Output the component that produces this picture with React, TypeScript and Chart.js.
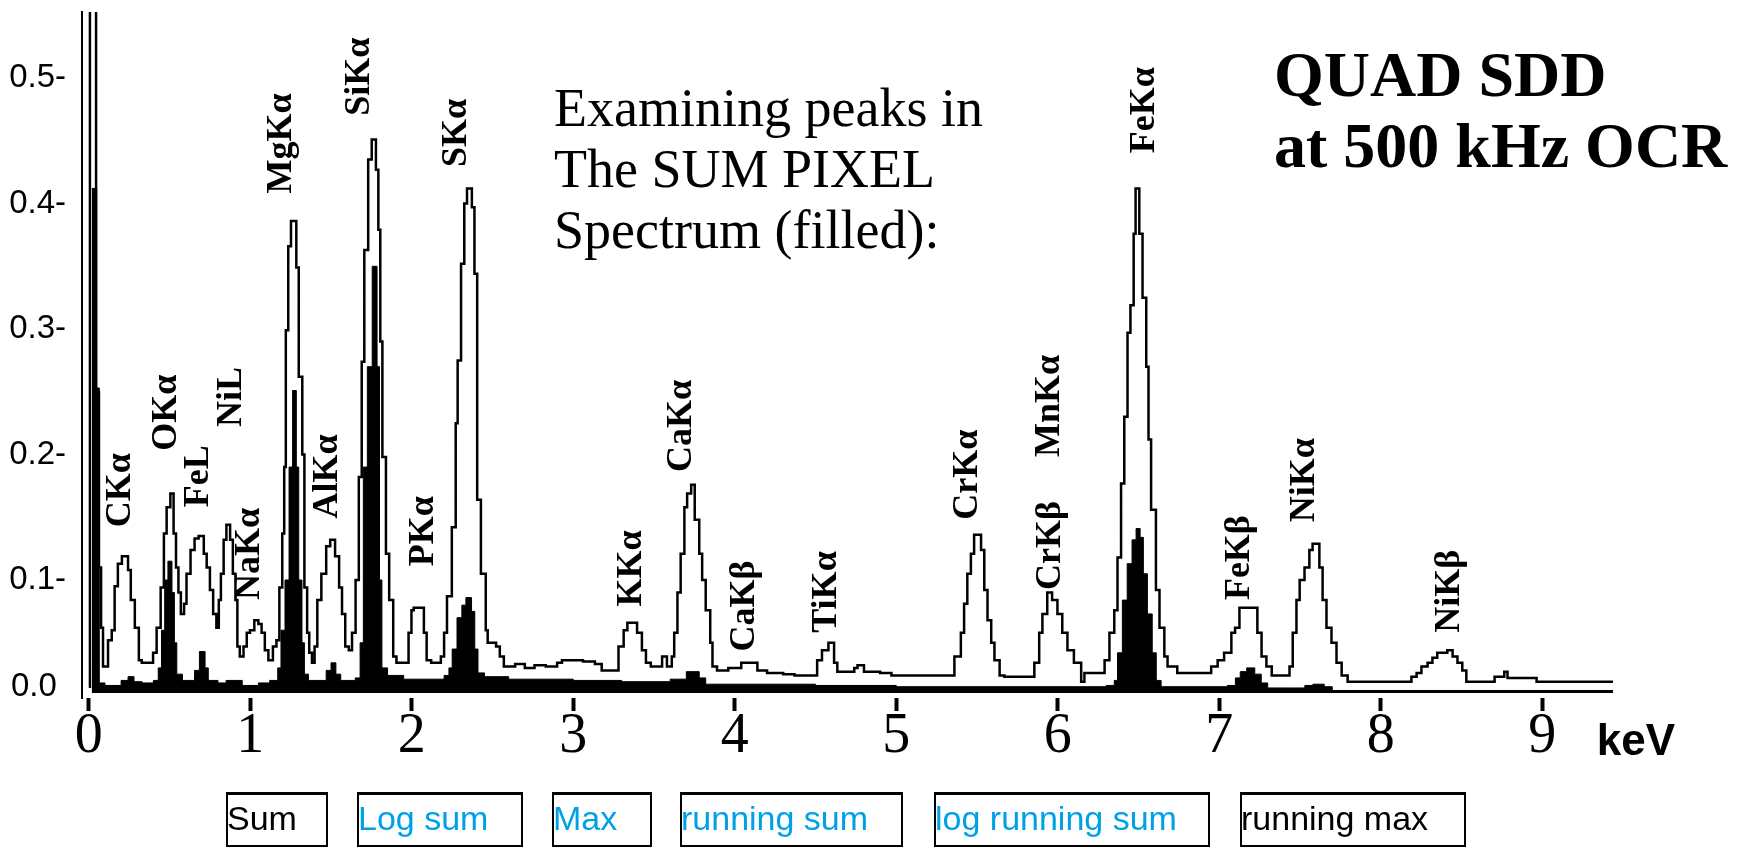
import React, { useEffect, useRef } from "react";
import { Chart, registerables } from "chart.js";

Chart.register(...registerables);

// Line spectrum (outline): energy in keV, normalised intensity
const lineEnergy = [
  0.0, 0.007, 0.045, 0.063, 0.076, 0.088, 0.119, 0.142, 0.16, 0.18, 0.205, 0.243, 0.26, 0.285, 0.31, 0.328,
  0.398, 0.42, 0.445, 0.465, 0.482, 0.505, 0.525, 0.54, 0.555, 0.57, 0.59, 0.605, 0.63, 0.655, 0.68, 0.712,
  0.73, 0.75, 0.77, 0.79, 0.805, 0.818, 0.835, 0.852, 0.875, 0.892, 0.908, 0.92, 0.935, 0.958, 0.978, 0.998,
  1.025, 1.05, 1.07, 1.09, 1.112, 1.14, 1.162, 1.18, 1.198, 1.21, 1.22, 1.235, 1.252, 1.285, 1.3, 1.322,
  1.335, 1.352, 1.365, 1.382, 1.398, 1.415, 1.44, 1.47, 1.495, 1.525, 1.55, 1.568, 1.588, 1.61, 1.63, 1.652,
  1.672, 1.69, 1.706, 1.73, 1.752, 1.778, 1.793, 1.805, 1.818, 1.84, 1.86, 1.885, 1.905, 1.98, 1.998, 2.012,
  2.075, 2.092, 2.12, 2.18, 2.2, 2.218, 2.248, 2.272, 2.284, 2.305, 2.325, 2.342, 2.372, 2.388, 2.405, 2.428,
  2.458, 2.47, 2.522, 2.545, 2.57, 2.64, 2.7, 2.76, 2.83, 2.9, 2.93, 3.06, 3.134, 3.176, 3.28, 3.312,
  3.335, 3.395, 3.425, 3.45, 3.48, 3.55, 3.58, 3.61, 3.625, 3.645, 3.665, 3.688, 3.705, 3.73, 3.752, 3.78,
  3.798, 3.82, 3.848, 3.862, 3.89, 3.96, 4.04, 4.14, 4.2, 4.3, 4.37, 4.51, 4.54, 4.58, 4.615, 4.635,
  4.74, 4.76, 4.8, 4.9, 4.97, 5.36, 5.4, 5.42, 5.44, 5.462, 5.482, 5.525, 5.545, 5.565, 5.588, 5.608,
  5.64, 5.67, 5.855, 5.885, 5.905, 5.935, 5.965, 5.998, 6.028, 6.06, 6.1, 6.145, 6.165, 6.29, 6.32, 6.35,
  6.37, 6.392, 6.412, 6.432, 6.45, 6.47, 6.482, 6.505, 6.525, 6.548, 6.562, 6.578, 6.608, 6.63, 6.66, 6.68,
  6.74, 6.95, 6.99, 7.03, 7.075, 7.098, 7.125, 7.236, 7.262, 7.292, 7.325, 7.435, 7.455, 7.478, 7.498, 7.528,
  7.558, 7.578, 7.62, 7.64, 7.664, 7.695, 7.726, 7.758, 7.795, 8.19, 8.222, 8.252, 8.29, 8.32, 8.35, 8.412,
  8.445, 8.475, 8.505, 8.53, 8.705, 8.765, 8.785, 8.965, 9.438,
];
const lineLevel = [
  0.015, 0.6, 0.25, 0.11, 0.062, 0.031, 0.052, 0.06, 0.095, 0.113, 0.119, 0.108, 0.084, 0.062, 0.036, 0.034,
  0.042, 0.062, 0.094, 0.137, 0.158, 0.169, 0.137, 0.11, 0.09, 0.073, 0.081, 0.105, 0.124, 0.133, 0.135, 0.121,
  0.11, 0.092, 0.073, 0.062, 0.084, 0.105, 0.132, 0.144, 0.132, 0.105, 0.084, 0.047, 0.039, 0.047, 0.058, 0.06,
  0.068, 0.065, 0.058, 0.044, 0.036, 0.047, 0.052, 0.094, 0.137, 0.19, 0.299, 0.366, 0.386, 0.349, 0.262, 0.2,
  0.094, 0.058, 0.042, 0.034, 0.047, 0.084, 0.105, 0.127, 0.132, 0.119, 0.094, 0.073, 0.047, 0.044, 0.058, 0.1,
  0.182, 0.274, 0.363, 0.435, 0.451, 0.427, 0.379, 0.29, 0.198, 0.121, 0.084, 0.039, 0.034, 0.058, 0.076, 0.078,
  0.058, 0.036, 0.034, 0.039, 0.058, 0.087, 0.142, 0.225, 0.275, 0.352, 0.4, 0.412, 0.397, 0.344, 0.164, 0.105,
  0.06, 0.05, 0.047, 0.039, 0.031, 0.033, 0.03, 0.032, 0.031, 0.034, 0.036, 0.035, 0.033, 0.028, 0.047, 0.06,
  0.066, 0.058, 0.044, 0.034, 0.031, 0.039, 0.031, 0.039, 0.058, 0.09, 0.121, 0.158, 0.169, 0.176, 0.148, 0.121,
  0.1, 0.076, 0.05, 0.031, 0.028, 0.03, 0.034, 0.028, 0.026, 0.025, 0.024, 0.036, 0.044, 0.05, 0.034, 0.027,
  0.03, 0.032, 0.027, 0.026, 0.024, 0.039, 0.058, 0.081, 0.105, 0.121, 0.136, 0.124, 0.092, 0.068, 0.05, 0.036,
  0.024, 0.023, 0.034, 0.058, 0.073, 0.09, 0.084, 0.073, 0.058, 0.044, 0.034, 0.019, 0.026, 0.036, 0.058, 0.076,
  0.118, 0.177, 0.23, 0.297, 0.319, 0.376, 0.412, 0.376, 0.325, 0.27, 0.212, 0.156, 0.092, 0.062, 0.039, 0.031,
  0.026, 0.031, 0.036, 0.042, 0.058, 0.062, 0.078, 0.058, 0.039, 0.031, 0.024, 0.031, 0.058, 0.084, 0.1, 0.11,
  0.124, 0.129, 0.11, 0.084, 0.062, 0.05, 0.034, 0.024, 0.019, 0.023, 0.026, 0.031, 0.034, 0.038, 0.042, 0.044,
  0.039, 0.034, 0.028, 0.019, 0.023, 0.027, 0.022, 0.019, 0.019,
];

// Sum-pixel spectrum (filled)
const sumEnergy = [
  0.018, 0.049, 0.065, 0.1, 0.2, 0.243, 0.28, 0.33, 0.4, 0.43, 0.45, 0.47, 0.49, 0.515, 0.53, 0.545,
  0.58, 0.655, 0.685, 0.72, 0.74, 0.8, 0.85, 0.95, 1.05, 1.12, 1.17, 1.19, 1.215, 1.24, 1.262, 1.285,
  1.3, 1.32, 1.335, 1.36, 1.47, 1.5, 1.53, 1.56, 1.65, 1.68, 1.7, 1.725, 1.755, 1.785, 1.8, 1.815,
  1.85, 1.95, 2.2, 2.23, 2.25, 2.28, 2.31, 2.335, 2.37, 2.39, 2.41, 2.45, 2.6, 3.0, 3.3, 3.6,
  3.7, 3.78, 3.82, 4.5, 5.0, 6.3, 6.35, 6.37, 6.4, 6.43, 6.46, 6.485, 6.51, 6.53, 6.555, 6.585,
  6.61, 6.64, 7.05, 7.1, 7.13, 7.17, 7.22, 7.26, 7.3, 7.45, 7.53, 7.58, 7.65, 7.7, 9.438,
];
const sumLevel = [
  0.412, 0.253, 0.018, 0.016, 0.02, 0.023, 0.019, 0.018, 0.02, 0.03, 0.06, 0.1, 0.115, 0.09, 0.05, 0.025,
  0.02, 0.028, 0.043, 0.03, 0.02, 0.018, 0.02, 0.016, 0.018, 0.02, 0.03, 0.06, 0.1, 0.19, 0.251, 0.19,
  0.1, 0.05, 0.025, 0.02, 0.028, 0.034, 0.025, 0.02, 0.022, 0.05, 0.19, 0.27, 0.35, 0.27, 0.1, 0.03,
  0.024, 0.021, 0.024, 0.03, 0.045, 0.07, 0.08, 0.086, 0.075, 0.045, 0.026, 0.023, 0.021, 0.02, 0.019, 0.021,
  0.027, 0.022, 0.017, 0.016, 0.015, 0.016, 0.02, 0.042, 0.084, 0.113, 0.132, 0.141, 0.134, 0.105, 0.073, 0.042,
  0.02, 0.015, 0.016, 0.022, 0.027, 0.03, 0.025, 0.018, 0.014, 0.014, 0.016, 0.017, 0.015, 0.012, 0.012,
];
const baseLevel = 0.01;

// Peak identifications: name, energy (keV) and level where the label starts
const peakNames = [
  "CKα", "OKα", "FeL", "NiL", "NaKα", "MgKα", "AlKα", "SiKα", "PKα", "SKα", "KKα",
  "CaKα", "CaKβ", "TiKα", "CrKα", "CrKβ", "MnKα", "FeKα", "FeKβ", "NiKα", "NiKβ",
];
const peakEnergy = [
  0.2, 0.482, 0.682, 0.887, 0.998, 1.194, 1.481, 1.679, 2.076, 2.278, 3.361,
  3.671, 4.063, 4.569, 5.444, 5.958, 5.952, 6.539, 7.129, 7.531, 8.429,
];
const peakLevel = [
  0.142, 0.203, 0.158, 0.222, 0.084, 0.408, 0.149, 0.47, 0.111, 0.429, 0.079,
  0.186, 0.043, 0.058, 0.148, 0.092, 0.198, 0.44, 0.084, 0.146, 0.058,
];

const xTickValues = [0, 1, 2, 3, 4, 5, 6, 7, 8, 9];
const unitTickAt = 9.58;
const yTickValues = [0.0147, 0.1, 0.2, 0.3, 0.4, 0.5];

const noteLines = ["Examining peaks in", "The SUM PIXEL", "Spectrum (filled):"];
const titleLines = ["QUAD SDD", "at 500 kHz OCR"];
const modeButtons = ["Sum", "Log sum", "Max", "running sum", "log running sum", "running max"];
const modeSelected = [true, false, false, false, false, true];
const modeButtonSpans = [
  [226, 328], [357, 523], [552, 652], [680, 903], [934, 1210], [1240, 1466],
];

const annotationsPlugin = {
  id: "spectrumAnnotations",
  afterDatasetsDraw(chart: any) {
    const { ctx, scales } = chart;
    const x = scales.x;
    const y = scales.y;
    ctx.save();
    ctx.fillStyle = "#000";
    ctx.font = "bold 36px 'Liberation Serif', serif";
    ctx.textAlign = "left";
    ctx.textBaseline = "middle";
    peakNames.forEach((name, i) => {
      const px = x.getPixelForValue(peakEnergy[i]);
      const py = y.getPixelForValue(peakLevel[i]);
      ctx.save();
      ctx.translate(px, py);
      ctx.rotate(-Math.PI / 2);
      ctx.fillText(name, 0, 0);
      ctx.restore();
    });

    ctx.textBaseline = "alphabetic";
    ctx.font = "54px 'Liberation Serif', serif";
    noteLines.forEach((line, i) => ctx.fillText(line, 554, 126 + i * 61));

    ctx.font = "bold 64px 'Liberation Serif', serif";
    titleLines.forEach((line, i) => ctx.fillText(line, 1274, 96 + i * 71));
    ctx.restore();
  },
  afterDraw(chart: any) {
    const { ctx } = chart;
    ctx.save();
    ctx.font = "34px 'Liberation Sans', sans-serif";
    ctx.textAlign = "left";
    ctx.textBaseline = "alphabetic";
    modeButtons.forEach((label, i) => {
      const [l, r] = modeButtonSpans[i];
      ctx.strokeStyle = "#000";
      ctx.lineWidth = 2;
      ctx.strokeRect(l + 1, 794, r - l - 2, 52);
      ctx.fillStyle = "#000";
      ctx.fillRect(l, 792, r - l, 3);
      ctx.fillStyle = modeSelected[i] ? "#000" : "#00a0e6";
      ctx.fillText(label, l + 1, 830);
    });
    ctx.restore();
  },
};

export default function App() {
  const canvasRef = useRef<HTMLCanvasElement | null>(null);

  useEffect(() => {
    document.body.style.margin = "0";
    const canvas = canvasRef.current;
    if (!canvas) return;

    const chart = new Chart(canvas, {
      type: "line",
      data: {
        datasets: [
          {
            label: "Spectrum",
            data: lineEnergy.map((e, i) => ({ x: e, y: lineLevel[i] })),
            stepped: true,
            borderColor: "#000",
            borderWidth: 2.5,
            pointRadius: 0,
            fill: false,
          },
          {
            label: "Sum pixel spectrum",
            data: sumEnergy.map((e, i) => ({ x: e, y: sumLevel[i] })),
            stepped: true,
            borderColor: "#000",
            backgroundColor: "#000",
            borderWidth: 1,
            pointRadius: 0,
            fill: { value: baseLevel },
          },
        ],
      },
      options: {
        animation: false,
        responsive: false,
        devicePixelRatio: 1,
        layout: { padding: { top: 12, right: 47, bottom: 0, left: 0 } },
        plugins: {
          legend: { display: false },
          tooltip: { enabled: false },
        },
        scales: {
          x: {
            type: "linear",
            min: -0.0421,
            max: 9.915,
            afterBuildTicks: (scale: any) => {
              scale.ticks = [...xTickValues, unitTickAt].map((value) => ({ value }));
            },
            afterFit: (scale: any) => {
              scale.height = 150;
              scale.paddingLeft = 0;
              scale.paddingRight = 0;
            },
            border: { display: false },
            grid: {
              display: true,
              drawOnChartArea: false,
              drawTicks: true,
              tickLength: 13,
              tickWidth: 4,
              tickColor: (c: any) =>
                c.tick && c.tick.value === unitTickAt ? "rgba(0,0,0,0)" : "#000",
            },
            ticks: {
              autoSkip: false,
              maxRotation: 0,
              padding: -2,
              color: "#000",
              font: (c: any) =>
                c.tick && c.tick.value === unitTickAt
                  ? { family: "'Liberation Sans', sans-serif", size: 44, weight: "bold", lineHeight: 1.545 }
                  : { family: "'Liberation Serif', serif", size: 56, lineHeight: 1 },
              callback: (v: any) => (v === unitTickAt ? "keV" : String(v)),
            },
          },
          y: {
            type: "linear",
            min: 0.006,
            max: 0.5526,
            afterBuildTicks: (scale: any) => {
              scale.ticks = yTickValues.map((value) => ({ value }));
            },
            afterFit: (scale: any) => {
              scale.width = 82;
              scale.paddingTop = 0;
              scale.paddingBottom = 0;
            },
            border: { display: true, color: "#000", width: 2 },
            grid: { display: false },
            ticks: {
              padding: 8,
              color: "#000",
              font: { family: "'Liberation Sans', sans-serif", size: 33 },
              callback: (v: any) => (Number(v) < 0.05 ? "0.0 " : Number(v).toFixed(1) + "-"),
            },
          },
        },
      },
      plugins: [annotationsPlugin],
    } as any);

    return () => chart.destroy();
  }, []);

  return (
    <div style={{ width: 1737, height: 848, background: "#fff" }}>
      <canvas ref={canvasRef} width={1737} height={848} style={{ display: "block" }} />
    </div>
  );
}
